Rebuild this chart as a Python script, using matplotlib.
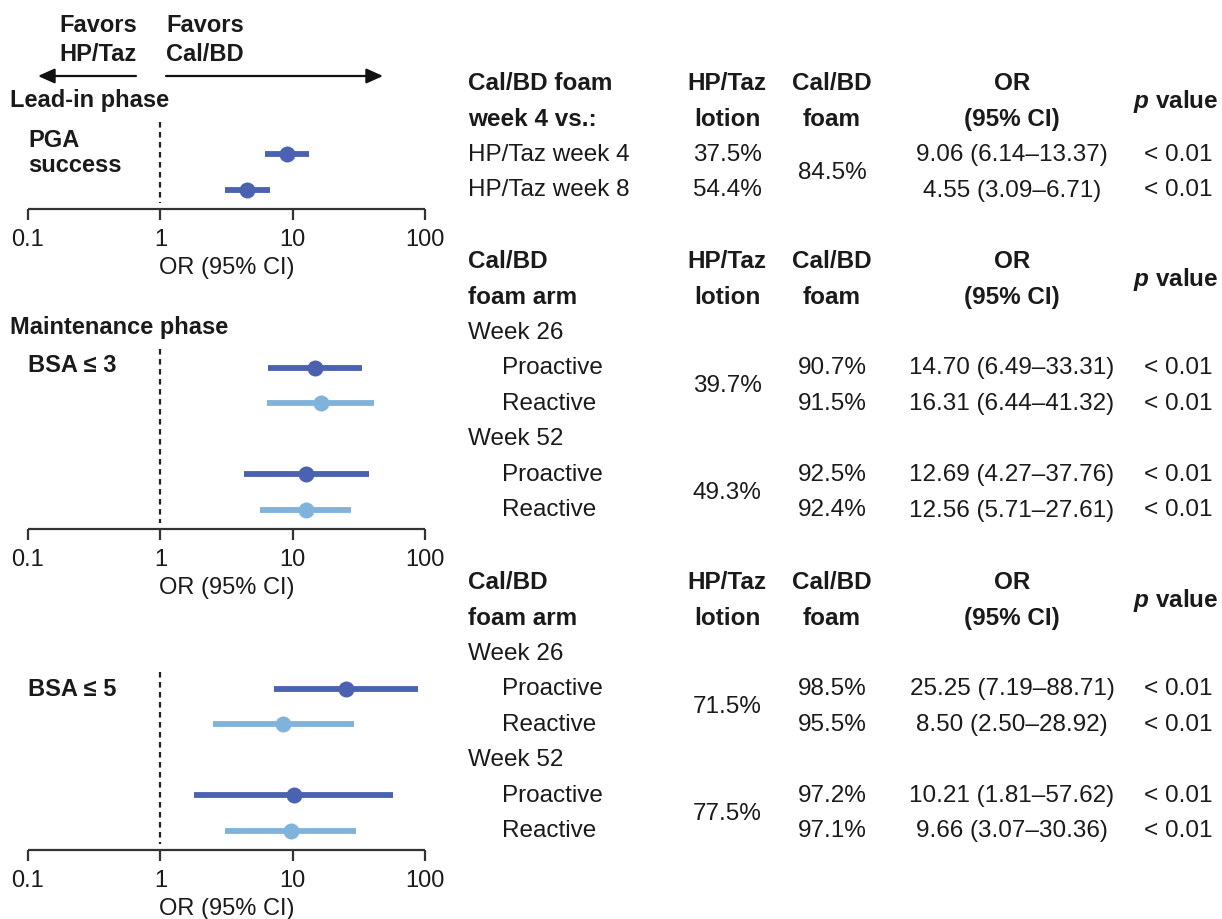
import matplotlib
matplotlib.use("Agg")
import matplotlib.pyplot as plt
from matplotlib import font_manager
from matplotlib.ticker import FixedLocator, FixedFormatter, NullLocator

# ---- data ----
lead_rows = ["HP/Taz week 4", "HP/Taz week 8"]
lead_hp = ["37.5%", "54.4%"]
lead_cal = "84.5%"
lead_or = [9.06, 4.55]
lead_lo = [6.14, 3.09]
lead_hi = [13.37, 6.71]
lead_p = ["< 0.01", "< 0.01"]

weeks = ["Week 26", "Week 52"]
arms = ["Proactive", "Reactive"]

bsa3_hp = ["39.7%", "49.3%"]
bsa3_cal = ["90.7%", "91.5%", "92.5%", "92.4%"]
bsa3_or = [14.70, 16.31, 12.69, 12.56]
bsa3_lo = [6.49, 6.44, 4.27, 5.71]
bsa3_hi = [33.31, 41.32, 37.76, 27.61]
bsa3_p = ["< 0.01"] * 4

bsa5_hp = ["71.5%", "77.5%"]
bsa5_cal = ["98.5%", "95.5%", "97.2%", "97.1%"]
bsa5_or = [25.25, 8.50, 10.21, 9.66]
bsa5_lo = [7.19, 2.50, 1.81, 3.07]
bsa5_hi = [88.71, 28.92, 57.62, 30.36]
bsa5_p = ["< 0.01"] * 4

ticks = [0.1, 1, 10, 100]
tick_labels = ["0.1", "1", "10", "100"]

DARK = "#4a62af"
LIGHT = "#80b3db"
TXT = "#1a1a1a"

installed = {f.name for f in font_manager.fontManager.ttflist}
NARROW = "Liberation Sans Narrow" if "Liberation Sans Narrow" in installed else "Liberation Sans"
plt.rcParams["font.family"] = ["Liberation Sans", "DejaVu Sans"]
plt.rcParams["mathtext.fontset"] = "custom"
plt.rcParams["mathtext.it"] = "Liberation Sans:italic:bold"
plt.rcParams["mathtext.rm"] = "Liberation Sans:bold"

W, H = 1222, 920
fig = plt.figure(figsize=(W / 100, H / 100), dpi=100)
bg = fig.add_axes([0, 0, 1, 1])
bg.set_xlim(0, W)
bg.set_ylim(H, 0)
bg.axis("off")

STEP = 35.5
LFS = 17    # left bold labels
AFS = 17    # axis text
FS = 17.5   # table text


def row_y(top, i):
    return top + i * STEP


def forest(y_top, y_axis, dash_top, ys, ors, los, his, colors):
    ax = fig.add_axes([28 / W, 1 - y_axis / H, (425 - 28) / W, (y_axis - y_top) / H])
    ax.set_xscale("log")
    ax.set_xlim(0.1, 100)
    ax.set_ylim(y_axis, y_top)
    for s in ["top", "right", "left"]:
        ax.spines[s].set_visible(False)
    ax.spines["bottom"].set_linewidth(1.6)
    ax.spines["bottom"].set_color("#333333")
    ax.spines["bottom"].set_capstyle("butt")
    ax.xaxis.set_major_locator(FixedLocator(ticks))
    ax.xaxis.set_major_formatter(FixedFormatter(tick_labels))
    ax.xaxis.set_minor_locator(NullLocator())
    ax.tick_params(axis="x", direction="out", length=8, width=1.6, color="#333333",
                   labelsize=AFS, pad=6, labelcolor=TXT)
    ax.set_yticks([])
    ax.set_xlabel("OR (95% CI)", fontsize=AFS, color=TXT, labelpad=4)
    ax.plot([1, 1], [dash_top, y_axis - 6], ls=(0, (2.5, 2)), color="#222222", lw=1.6)
    for y, o, lo, hi, c in zip(ys, ors, los, his, colors):
        ax.plot([lo, hi], [y, y], color=c, lw=4.2, solid_capstyle="butt")
        ax.plot([o], [y], "o", color=c, ms=11.5, mec="none")
    ax.patch.set_alpha(0)
    return ax


# ---- left side labels ----
bg.text(137, 40, "Favors\nHP/Taz", ha="right", va="center", fontsize=LFS,
        fontweight="bold", color=TXT, linespacing=1.3)
bg.text(166, 40, "Favors\nCal/BD", ha="left", va="center", fontsize=LFS,
        fontweight="bold", color=TXT, linespacing=1.3)
arrow = dict(arrowstyle="-|>,head_length=1.0,head_width=0.45", color="#111111", lw=1.6,
             shrinkA=0, shrinkB=0)
bg.annotate("", xy=(38, 77), xytext=(136, 77), arrowprops=arrow)
bg.annotate("", xy=(383, 77), xytext=(166, 77), arrowprops=arrow)

bg.text(10, 101, "Lead-in phase", ha="left", va="center", fontsize=LFS,
        fontweight="bold", color=TXT)
bg.text(28, 153, "PGA\nsuccess", ha="left", va="center", fontsize=LFS,
        fontweight="bold", color=TXT, linespacing=1.1)
bg.text(10, 328, "Maintenance phase", ha="left", va="center", fontsize=LFS,
        fontweight="bold", color=TXT)
bg.text(28, 366, "BSA ≤ 3", ha="left", va="center", fontsize=LFS,
        fontweight="bold", color=TXT)
bg.text(28, 690, "BSA ≤ 5", ha="left", va="center", fontsize=LFS,
        fontweight="bold", color=TXT)

# ---- forest panels ----
T1, T2, T3 = 84, 262, 583
forest(118, 210, 123, [row_y(T1, 2), row_y(T1, 3)], lead_or, lead_lo, lead_hi,
       [DARK, DARK])
sub_rows = [3, 4, 6, 7]
cols4 = [DARK, LIGHT, DARK, LIGHT]
forest(345, 530, 350, [row_y(T2, i) for i in sub_rows], bsa3_or, bsa3_lo, bsa3_hi, cols4)
forest(668, 851, 673, [row_y(T3, i) for i in sub_rows], bsa5_or, bsa5_lo, bsa5_hi, cols4)

# ---- tables ----
X_LAB, X_IND, X_HP, X_CAL, X_OR, X_P = 468, 502, 727, 832, 1012, 1178


def t(x, y, s, ha="center", bold=False, **kw):
    bg.text(x, y, s, ha=ha, va="center", fontsize=FS, family=[NARROW, "DejaVu Sans"],
            fontweight="bold" if bold else "normal", color=TXT, **kw)


def header(top, first):
    t(X_LAB, row_y(top, 0), first[0], ha="left", bold=True)
    t(X_LAB, row_y(top, 1), first[1], ha="left", bold=True)
    t(X_HP, row_y(top, 0), "HP/Taz", bold=True)
    t(X_HP, row_y(top, 1), "lotion", bold=True)
    t(X_CAL, row_y(top, 0), "Cal/BD", bold=True)
    t(X_CAL, row_y(top, 1), "foam", bold=True)
    t(X_OR, row_y(top, 0), "OR", bold=True)
    t(X_OR, row_y(top, 1), "(95% CI)", bold=True)
    t(X_P - 2, row_y(top, 0.5), r"$p$ value", bold=True)


def or_text(o, lo, hi):
    return f"{o:.2f} ({lo:.2f}–{hi:.2f})"


header(T1, ["Cal/BD foam", "week 4 vs.:"])
for i in range(2):
    y = row_y(T1, 2 + i)
    t(X_LAB, y, lead_rows[i], ha="left")
    t(X_HP, y, lead_hp[i])
    t(X_OR, y, or_text(lead_or[i], lead_lo[i], lead_hi[i]))
    t(X_P, y, lead_p[i])
t(X_CAL, row_y(T1, 2.5), lead_cal)


def maint(top, hp, cal, ors, los, his, ps):
    header(top, ["Cal/BD", "foam arm"])
    k = 0
    for w in range(2):
        base = 2 + w * 3
        t(X_LAB, row_y(top, base), weeks[w], ha="left")
        t(X_HP, row_y(top, base + 1.5), hp[w])
        for a in range(2):
            y = row_y(top, base + 1 + a)
            t(X_IND, y, arms[a], ha="left")
            t(X_CAL, y, cal[k])
            t(X_OR, y, or_text(ors[k], los[k], his[k]))
            t(X_P, y, ps[k])
            k += 1


maint(T2, bsa3_hp, bsa3_cal, bsa3_or, bsa3_lo, bsa3_hi, bsa3_p)
maint(T3, bsa5_hp, bsa5_cal, bsa5_or, bsa5_lo, bsa5_hi, bsa5_p)

fig.savefig("out.png", dpi=100, facecolor="white")
